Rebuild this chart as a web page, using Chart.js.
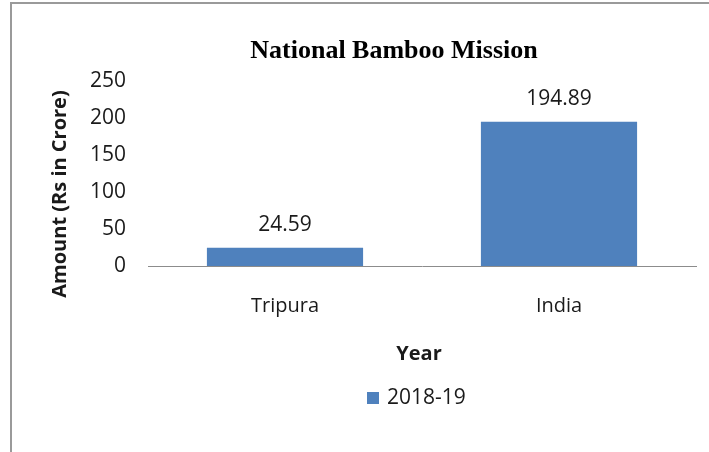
<!DOCTYPE html>
<html>
<head>
<meta charset="utf-8">
<script src="https://cdn.jsdelivr.net/npm/chart.js@4/dist/chart.umd.min.js"></script>
<style>
  html, body { margin: 0; padding: 0; background: #fff; }
  #wrap { width: 709px; height: 452px; }
</style>
</head>
<body>
<div id="wrap"><canvas id="c" width="709" height="452"></canvas></div>
<script>
// Chart content
const chartTitle = 'National Bamboo Mission';
const categories = ['Tripura', 'India'];
const seriesLabel = '2018-19';
const amounts = [24.59, 194.89];
const yTicks = [0, 50, 100, 150, 200, 250];
const yTitle = 'Amount (Rs in Crore)';
const xTitle = 'Year';

const BAR_BLUE = '#4F81BD';
const TEXT = '#1a1a1a';
const SANS = '"Open Sans", "Liberation Sans", sans-serif';
const SERIF = '"Liberation Serif", "DejaVu Serif", serif';

// Frame, titles, value labels and legend drawn on the canvas
const decorations = {
  id: 'decorations',
  beforeDraw(chart) {
    const ctx = chart.ctx;
    ctx.save();
    ctx.strokeStyle = '#9a9a9a';
    ctx.lineWidth = 2;
    ctx.beginPath();
    ctx.moveTo(11, 452);
    ctx.lineTo(11, 3);
    ctx.lineTo(709, 3);
    ctx.stroke();
    ctx.restore();
  },
  afterDraw(chart) {
    const ctx = chart.ctx;
    const area = chart.chartArea;
    ctx.save();
    ctx.fillStyle = TEXT;

    // chart title
    ctx.font = 'bold 26px ' + SERIF;
    ctx.textAlign = 'center';
    ctx.textBaseline = 'middle';
    ctx.fillStyle = '#000';
    ctx.fillText(chartTitle, 394, 51);

    // value labels above bars
    ctx.fillStyle = TEXT;
    ctx.font = '21px ' + SANS;
    const meta = chart.getDatasetMeta(0);
    meta.data.forEach((bar, i) => {
      const v = chart.data.datasets[0].data[i];
      ctx.fillText(v.toFixed(2), bar.x, bar.y - 23);
    });

    // y axis title
    ctx.font = 'bold 20px ' + SANS;
    ctx.save();
    ctx.translate(60, 194);
    ctx.rotate(-Math.PI / 2);
    ctx.fillText(yTitle, 0, 0);
    ctx.restore();

    // x axis title
    ctx.fillText(xTitle, (area.left + area.right) / 2 - 3, 354);

    // legend
    ctx.fillStyle = BAR_BLUE;
    ctx.fillRect(367, 392, 12, 12);
    ctx.fillStyle = TEXT;
    ctx.font = '21px ' + SANS;
    ctx.textAlign = 'left';
    ctx.fillText(seriesLabel, 387, 398);
    ctx.restore();
  }
};

new Chart(document.getElementById('c'), {
  type: 'bar',
  data: {
    labels: categories,
    datasets: [{
      label: seriesLabel,
      data: amounts,
      backgroundColor: BAR_BLUE,
      borderWidth: 0,
      barPercentage: 0.57,
      categoryPercentage: 1.0
    }]
  },
  options: {
    responsive: false,
    animation: false,
    devicePixelRatio: 1,
    layout: { padding: { left: 12, right: 13, top: 81, bottom: 116 } },
    plugins: {
      legend: { display: false },
      title: { display: false },
      tooltip: { enabled: false }
    },
    scales: {
      x: {
        grid: { display: false, drawTicks: false },
        border: { display: true, color: '#8c8c8c', width: 1 },
        ticks: { color: TEXT, font: { family: SANS, size: 20 }, padding: 28 },
        afterFit(scale) { scale.height = 70; }
      },
      y: {
        min: 0,
        max: 250,
        afterBuildTicks(scale) { scale.ticks = yTicks.map(v => ({ value: v })); },
        grid: { display: false, drawTicks: false },
        border: { display: false },
        ticks: { color: TEXT, font: { family: SANS, size: 21 }, padding: 22 },
        afterFit(scale) { scale.width = 136; }
      }
    }
  },
  plugins: [decorations]
});
</script>
</body>
</html>
